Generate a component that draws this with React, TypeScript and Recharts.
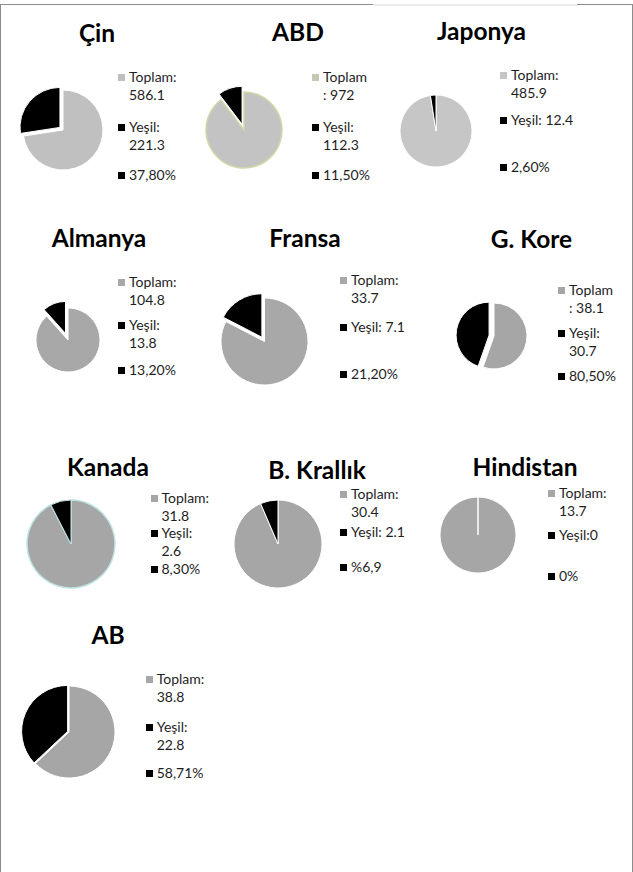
import { PieChart, Pie, Cell } from 'recharts';

const countries = ['Çin', 'ABD', 'Japonya', 'Almanya', 'Fransa', 'G. Kore', 'Kanada', 'B. Krallık', 'Hindistan', 'AB'];
const toplam = [586.1, 972, 485.9, 104.8, 33.7, 38.1, 31.8, 30.4, 13.7, 38.8];
const yesil = [221.3, 112.3, 12.4, 13.8, 7.1, 30.7, 2.6, 2.1, 0, 22.8];
const toplamLabels = ['Toplam:\n586.1', 'Toplam\n: 972', 'Toplam:\n485.9', 'Toplam:\n104.8', 'Toplam:\n33.7', 'Toplam\n: 38.1', 'Toplam:\n31.8', 'Toplam:\n30.4', 'Toplam:\n13.7', 'Toplam:\n38.8'];
const yesilLabels = ['Yeşil:\n221.3', 'Yeşil:\n112.3', 'Yeşil: 12.4', 'Yeşil:\n13.8', 'Yeşil: 7.1', 'Yeşil:\n30.7', 'Yeşil:\n2.6', 'Yeşil: 2.1', 'Yeşil:0', 'Yeşil:\n22.8'];
const oranLabels = ['37,80%', '11,50%', '2,60%', '13,20%', '21,20%', '80,50%', '8,30%', '%6,9', '0%', '58,71%'];

// where each little chart sits on the page
const panels = [
  { cx: 63, cy: 130, r: 40, tx: 97, ty: 33.5, lx: 129, rows: [77, 127, 175], gray: '#c0c0c0', key: '#bfbfbf', explode: 4 },
  { cx: 244, cy: 130, r: 38, tx: 298, ty: 33, lx: 323, rows: [77, 127, 175], gray: '#c3c3c3', key: '#c5c8b4', explode: 6, grayStroke: '#d3d7a8' },
  { cx: 436, cy: 130.5, r: 36, tx: 481.5, ty: 31.5, lx: 511, rows: [75, 120, 167], gray: '#c6c6c6', key: '#c6c6c6', explode: 0 },
  { cx: 68, cy: 340, r: 32, tx: 99, ty: 239, lx: 129, rows: [282, 325, 370], gray: '#a8a8a8', key: '#a8a8a8', explode: 7 },
  { cx: 264.5, cy: 341, r: 43.5, tx: 305, ty: 239, lx: 351, rows: [280, 327, 374], gray: '#a8a8a8', key: '#a8a8a8', explode: 5 },
  { cx: 494, cy: 336, r: 33, tx: 531.5, ty: 240, lx: 569, rows: [290, 333, 376], gray: '#a6a6a6', key: '#a6a6a6', explode: 5 },
  { cx: 70.5, cy: 544, r: 44, tx: 108, ty: 468, lx: 161.5, rows: [498, 533, 569], gray: '#a6a6a6', key: '#a6a6a6', explode: 0, grayStroke: '#bfe2e2' },
  { cx: 277.5, cy: 544, r: 44, tx: 317, ty: 470.5, lx: 351, rows: [494, 532, 567], gray: '#a6a6a6', key: '#a6a6a6', explode: 0 },
  { cx: 478, cy: 534.5, r: 38, tx: 525, ty: 468, lx: 559, rows: [493, 535, 576], gray: '#a6a6a6', key: '#a6a6a6', explode: 0 },
  { cx: 69, cy: 732, r: 46, tx: 108, ty: 635.5, lx: 156.7, rows: [679, 727, 773], gray: '#a6a6a6', key: '#a6a6a6', explode: 1.5 },
];

const lineH = 18.8;
const pad = 14;

function LegendItem({ x, y, color, text }: { x: number; y: number; color: string; text: string }) {
  return (
    <>
      <div style={{ position: 'absolute', left: x - 11, top: y - 3.5, width: 7, height: 7, background: color }} />
      <div
        style={{
          position: 'absolute',
          left: x,
          top: y - lineH / 2,
          fontFamily: 'Lato, sans-serif',
          fontSize: 14,
          lineHeight: `${lineH}px`,
          color: '#1e1e1e',
          whiteSpace: 'pre',
        }}
      >
        {text}
      </div>
    </>
  );
}

function Panel({ i }: { i: number }) {
  const p = panels[i];
  const data = [
    { name: 'Toplam', value: toplam[i] },
    { name: 'Yeşil', value: yesil[i] },
  ];
  const f = yesil[i] / (toplam[i] + yesil[i]);
  const mid = ((90 + 180 * f) * Math.PI) / 180;
  const dx = Math.cos(mid) * p.explode;
  const dy = -Math.sin(mid) * p.explode;
  const size = 2 * (p.r + pad);
  const c = p.r + pad;

  return (
    <>
      <div
        style={{
          position: 'absolute',
          left: p.tx,
          top: p.ty,
          transform: 'translate(-50%, -52%)',
          fontFamily: 'Lato, sans-serif',
          fontWeight: 700,
          fontSize: 24.5,
          lineHeight: 1,
          color: '#000',
          whiteSpace: 'nowrap',
        }}
      >
        {countries[i]}
      </div>
      <div style={{ position: 'absolute', left: p.cx - c, top: p.cy - c }}>
        <PieChart width={size} height={size} margin={{ top: 0, right: 0, bottom: 0, left: 0 }}>
          <Pie
            data={data}
            dataKey="value"
            cx={c}
            cy={c}
            outerRadius={p.r}
            startAngle={90}
            endAngle={-270}
            isAnimationActive={false}
          >
            <Cell fill={p.gray} stroke={p.grayStroke || '#fff'} strokeWidth={p.grayStroke ? 1.5 : 1} />
            <Cell fill="transparent" stroke="none" />
          </Pie>
          <Pie
            data={data}
            dataKey="value"
            cx={c + dx}
            cy={c + dy}
            outerRadius={p.r}
            startAngle={90}
            endAngle={-270}
            isAnimationActive={false}
          >
            <Cell fill="transparent" stroke="none" />
            <Cell fill="#000" stroke={i === 6 ? '#bfe2e2' : '#fff'} strokeWidth={1} />
          </Pie>
        </PieChart>
      </div>
      <LegendItem x={p.lx} y={p.rows[0]} color={p.key} text={toplamLabels[i]} />
      <LegendItem x={p.lx} y={p.rows[1]} color="#000" text={yesilLabels[i]} />
      <LegendItem x={p.lx} y={p.rows[2]} color="#000" text={oranLabels[i]} />
    </>
  );
}

export default function App() {
  return (
    <div
      style={{
        position: 'absolute',
        top: 0,
        left: 0,
        width: 633,
        height: 872,
        background: '#fff',
        overflow: 'hidden',
      }}
    >
      <div
        style={{
          position: 'absolute',
          left: 0,
          top: 4,
          width: 631,
          height: 880,
          borderLeft: '1px solid #8c8c8c',
          borderRight: '1px solid #8c8c8c',
          borderTop: '1px solid #8c8c8c',
        }}
      />
      <div style={{ position: 'absolute', left: 373, top: 4, width: 204, height: 2, background: '#ececec' }} />
      {countries.map((_, i) => (
        <Panel key={i} i={i} />
      ))}
    </div>
  );
}
